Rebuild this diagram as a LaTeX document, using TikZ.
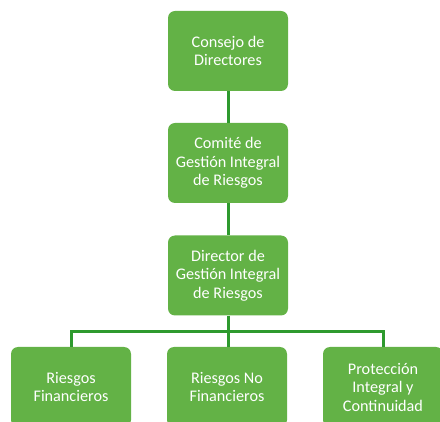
\documentclass[tikz,border=0pt]{standalone}
\usepackage{fontspec}
\setmainfont{Carlito}
\usepackage{xcolor}
\definecolor{boxgreen}{HTML}{63B246}
\definecolor{linegreen}{HTML}{2E9A2E}
\tikzset{
	orgbox/.style={rectangle, rounded corners=7pt, fill=boxgreen, text=white,
		minimum width=120pt, minimum height=80pt, align=center,
		font=\fontsize{16.2}{18.5}\selectfont},
	link/.style={draw=linegreen, line width=3pt}
}
\begin{document}
\begin{tikzpicture}[x=1pt,y=-1pt]
	\clip(0,0)rectangle(440,422);
	\useasboundingbox(0,0)rectangle(440,422);
	\node[orgbox](consejo) at(228,51){Consejo de\\Directores};
	\node[orgbox](comite) at(228,163){Comité de\\Gestión Integral\\de Riesgos};
	\node[orgbox](director) at(228,275.5){Director de\\Gestión Integral\\de Riesgos};
	\node[orgbox](fin) at(71,387){Riesgos\\Financieros};
	\node[orgbox](nofin) at(227,387){Riesgos No\\Financieros};
	\node[orgbox](prot) at(383,387){Protección\\Integral y\\Continuidad};
	\coordinate(split) at(228,332);
	\draw[link](consejo)--(comite);
	\draw[link](comite)--(director);
	\draw[link](director)--(split);
	\draw[link](fin.north)|-(split)-|(prot.north);
	\draw[link](split)--(split|-nofin.north);
\end{tikzpicture}
\end{document}
